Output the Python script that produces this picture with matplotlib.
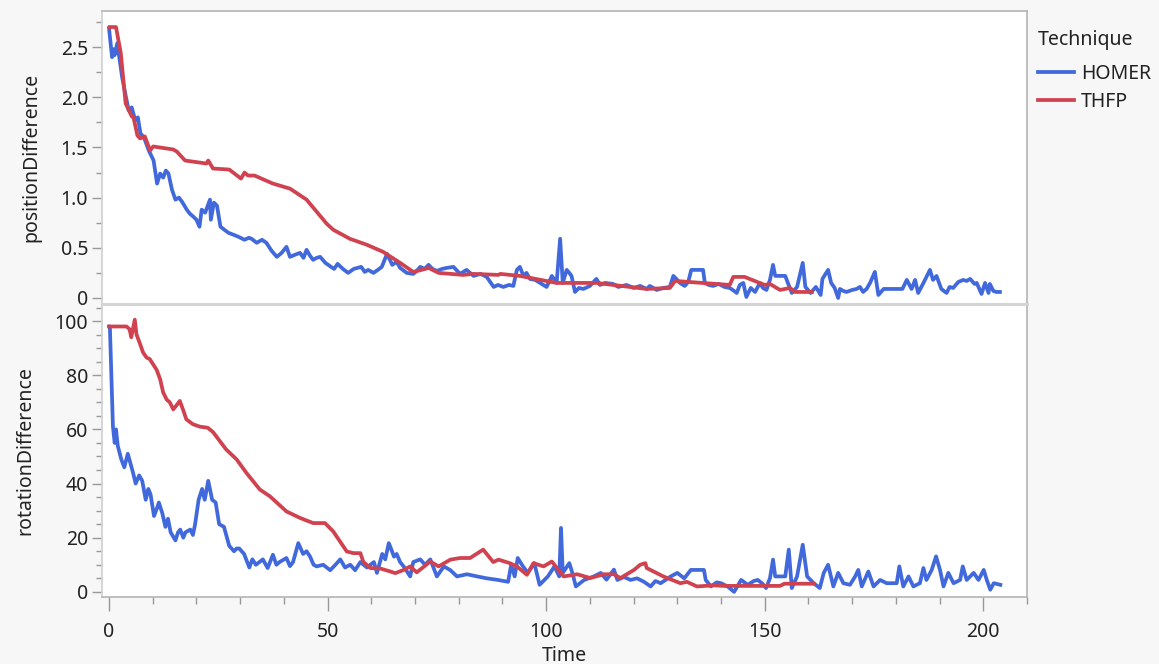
import matplotlib
matplotlib.use("Agg")
import matplotlib.pyplot as plt
from matplotlib.ticker import MultipleLocator, FixedLocator

# HOMER, positionDifference
homer_pos_t = [0, 0.7, 1.0, 1.3, 1.9, 3.0, 3.8, 4.5, 5.2, 6.0, 6.6, 7.2, 8.0, 9.1, 10.2, 11.0, 11.7, 12.4,
               13.0, 13.6, 14.4, 15.2, 16.0, 16.7, 17.8, 18.5, 19.3, 20.0, 20.7, 21.2, 22.0, 23.1, 23.3, 24.0,
               24.7, 25.5, 26.4, 27.3, 28.5, 29.6, 31.0, 32.0, 32.6, 33.8, 35.0, 36.0, 37.2, 38.4, 39.5, 40.6,
               41.4, 42.5, 43.7, 44.5, 45.2, 46.0, 46.7, 47.5, 48.3, 49.5, 50.8, 51.5, 52.3, 53.5, 54.7, 56.0,
               57.7, 58.5, 59.3, 60.5, 61.5, 62.4, 63.6, 64.8, 65.8, 66.6, 68.1, 69.6, 70.4, 71.2, 72.2, 73.1,
               74.0, 75.0, 76.2, 77.3, 78.8, 80.3, 81.8, 83.4, 85.0, 86.4, 88.0, 89.0, 90.2, 91.5, 92.5, 93.3,
               94.0, 94.8, 95.5, 96.3, 97.5, 98.6, 100.1, 101.3, 102.4, 103.2, 103.8, 104.7, 105.3, 105.8,
               106.6, 107.5, 108.5, 110.0, 111.5, 112.3, 113.5, 115.3, 116.5, 118.4, 120.0, 121.5, 123.0,
               123.7, 125.3, 126.8, 128.3, 129.1, 130.0, 130.6, 131.7, 132.5, 133.2, 135.9, 136.3, 137.2,
               138.2, 139.5, 140.8, 142.0, 143.0, 143.6, 144.3, 145.1, 145.8, 146.8, 147.8, 148.9, 149.6,
               150.4, 151.2, 151.9, 152.4, 154.0, 154.7, 155.3, 156.2, 157.4, 158.7, 159.3, 160.5, 161.7,
               162.8, 163.2, 164.5, 165.2, 166.0, 166.8, 167.2, 168.0, 168.7, 170.0, 171.0, 171.8, 172.5,
               173.3, 174.1, 175.2, 176.0, 177.2, 180.2, 181.5, 182.5, 183.6, 184.4, 185.1, 186.2, 187.0,
               187.8, 188.5, 189.3, 190.4, 191.6, 192.3, 193.1, 194.3, 195.4, 196.2, 197.0, 198.0, 198.5,
               199.6, 200.4, 201.2, 201.5, 202.3, 203.0, 203.8]
homer_pos = [2.69, 2.40, 2.48, 2.42, 2.54, 2.20, 2.02, 1.87, 1.90, 1.77, 1.80, 1.64, 1.60, 1.47, 1.37, 1.14, 1.24,
             1.20, 1.27, 1.24, 1.08, 0.98, 1.00, 0.96, 0.88, 0.84, 0.81, 0.78, 0.71, 0.88, 0.85, 0.98, 0.78,
             0.95, 0.92, 0.71, 0.68, 0.65, 0.63, 0.61, 0.58, 0.60, 0.59, 0.55, 0.58, 0.55, 0.47, 0.41, 0.45,
             0.51, 0.41, 0.43, 0.45, 0.40, 0.48, 0.42, 0.38, 0.40, 0.41, 0.35, 0.31, 0.29, 0.34, 0.29, 0.25,
             0.29, 0.31, 0.26, 0.28, 0.25, 0.28, 0.31, 0.44, 0.33, 0.36, 0.30, 0.25, 0.24, 0.27, 0.31, 0.29,
             0.33, 0.29, 0.27, 0.29, 0.30, 0.31, 0.24, 0.28, 0.22, 0.24, 0.21, 0.11, 0.13, 0.11, 0.13, 0.12,
             0.28, 0.31, 0.22, 0.25, 0.19, 0.18, 0.15, 0.11, 0.22, 0.15, 0.59, 0.15, 0.28, 0.25, 0.22, 0.06,
             0.10, 0.09, 0.12, 0.19, 0.13, 0.15, 0.14, 0.11, 0.13, 0.10, 0.12, 0.09, 0.12, 0.08, 0.10, 0.11,
             0.22, 0.18, 0.15, 0.12, 0.16, 0.28, 0.28, 0.15, 0.13, 0.12, 0.14, 0.11, 0.10, 0.07, 0.05, 0.13,
             0.15, 0.01, 0.10, 0.06, 0.15, 0.10, 0.08, 0.18, 0.33, 0.22, 0.22, 0.22, 0.15, 0.05, 0.11, 0.35,
             0.11, 0.05, 0.11, 0.03, 0.19, 0.28, 0.15, 0.10, 0.00, 0.09, 0.07, 0.06, 0.08, 0.09, 0.11, 0.06,
             0.09, 0.15, 0.26, 0.03, 0.09, 0.09, 0.09, 0.18, 0.09, 0.18, 0.05, 0.14, 0.21, 0.28, 0.18, 0.22,
             0.09, 0.05, 0.11, 0.10, 0.16, 0.18, 0.17, 0.19, 0.14, 0.15, 0.04, 0.15, 0.05, 0.14, 0.07, 0.06,
             0.06]

# THFP, positionDifference
thfp_pos_t = [0.2, 1.6, 2.7, 3.8, 5.2, 5.6, 6.5, 7.1, 8.2, 9.4, 10.1, 14.7, 15.5, 17.4, 22.3, 22.7, 23.8, 27.5,
              30.2, 31.0, 31.8, 33.3, 37.5, 41.4, 45.2, 49.8, 51.3, 55.1, 59.0, 62.7, 66.6, 69.6, 71.5, 73.1,
              75.4, 81.0, 83.4, 89.1, 89.5, 94.0, 102.4, 111.5, 123.0, 128.3, 129.5, 142.0, 142.8, 145.4,
              150.0, 151.2, 153.5, 155.8, 156.9, 160.8]
thfp_pos = [2.70, 2.70, 2.44, 1.94, 1.81, 1.80, 1.62, 1.59, 1.61, 1.47, 1.51, 1.48, 1.46, 1.37, 1.34, 1.37, 1.29,
            1.28, 1.19, 1.25, 1.22, 1.22, 1.14, 1.09, 0.98, 0.74, 0.68, 0.59, 0.53, 0.46, 0.35, 0.26, 0.28,
            0.30, 0.25, 0.23, 0.24, 0.23, 0.24, 0.22, 0.15, 0.15, 0.09, 0.10, 0.17, 0.13, 0.21, 0.21, 0.13,
            0.14, 0.08, 0.10, 0.06, 0.06]

# HOMER, rotationDifference
homer_rot_t = [0.0, 0.2, 0.9, 1.3, 1.6, 2.0, 2.8, 3.5, 4.3, 5.0, 5.5, 6.1, 6.9, 7.6, 8.4, 9.0, 9.5, 10.3, 11.0,
               11.4, 12.2, 12.9, 13.5, 14.1, 15.2, 15.8, 16.3, 17.0, 17.5, 18.6, 19.2, 19.7, 20.5, 21.3, 21.9,
               22.7, 23.6, 24.4, 25.2, 26.3, 27.5, 28.6, 29.2, 29.8, 30.9, 32.1, 32.8, 33.6, 35.2, 36.3, 37.5,
               38.3, 39.0, 40.6, 41.4, 42.1, 43.3, 44.4, 45.2, 46.0, 46.8, 47.5, 49.0, 50.6, 51.8, 52.9, 54.0,
               55.2, 56.3, 57.5, 59.0, 60.6, 61.3, 62.5, 63.2, 64.0, 64.5, 65.2, 65.8, 66.6, 67.4, 68.9, 69.6,
               71.2, 72.3, 73.5, 75.0, 76.6, 78.1, 79.6, 81.9, 84.2, 86.4, 89.0, 91.3, 92.0, 92.8, 93.5, 94.7,
               95.8, 97.3, 98.5, 100.4, 101.9, 103.0, 103.4, 103.8, 105.3, 106.0, 106.8, 108.7, 110.9, 112.5,
               113.8, 115.5, 116.3, 117.8, 119.3, 120.8, 122.4, 123.9, 125.0, 126.2, 128.5, 130.0, 131.6,
               133.1, 136.1, 136.5, 137.7, 139.0, 140.0, 141.5, 143.0, 144.6, 146.1, 147.5, 148.4, 149.5,
               150.3, 151.2, 151.9, 152.4, 154.7, 155.5, 156.2, 157.4, 158.7, 159.7, 161.2, 162.6, 163.5,
               164.5, 165.7, 166.8, 168.0, 169.5, 170.7, 171.4, 172.2, 173.7, 174.9, 176.4, 177.9, 180.2,
               180.8, 181.7, 182.9, 184.0, 185.5, 186.3, 187.0, 188.2, 189.2, 190.1, 190.9, 192.0, 193.2,
               194.7, 195.3, 196.2, 197.8, 198.9, 200.1, 200.8, 201.6, 202.4, 203.9]
homer_rot = [98, 98, 61, 55, 60, 54, 49, 46, 51, 47, 44, 40, 43, 41, 34, 38, 36, 28, 31, 33, 29, 24, 27, 22, 19,
             22, 23, 20, 22, 23, 21, 25, 34, 38, 34, 41, 34, 33, 25, 24, 17, 15, 16, 16, 14, 9, 12, 10, 12,
             8.8, 13.7, 10, 11, 12.5, 9.5, 11, 18, 14, 15, 13, 10, 9.4, 10, 8, 10, 12, 9, 10, 8, 11, 9, 11, 7,
             14, 12, 18, 16, 13, 14, 11, 9.4, 5.7, 11, 12, 10, 12, 5.7, 9.4, 8, 5.7, 6.5, 5.7, 5, 4.4, 3.7, 10,
             5.7, 12.5, 9.4, 7, 10.6, 2.6, 5.7, 9.4, 5.7, 23.6, 7, 10.6, 7, 2, 4.4, 5.7, 7, 4.5, 8.2, 4.4,
             5.5, 4.4, 5.0, 3.7, 2, 4, 3.2, 5.7, 7, 5, 8.1, 8.1, 4.4, 2, 3.5, 3.2, 2, 0, 4.4, 2.6, 4.0, 4.4,
             3, 1.4, 5, 11.9, 5.7, 5.7, 15.6, 1.4, 5.7, 17.4, 5.7, 3.2, 1.4, 7, 10, 2, 7, 3.2, 2.6, 5.7, 8.1,
             2, 7.5, 2, 4.4, 3.2, 3.2, 9.4, 2, 5.7, 2, 3.2, 8.8, 4.4, 8.1, 13.1, 8.1, 2, 7, 3.2, 4.4, 9.4,
             4.4, 7, 4.4, 8.1, 4.4, 0.8, 3.2, 2.6]

# THFP, rotationDifference
thfp_rot_t = [0.2, 4.0, 4.7, 5.1, 5.9, 6.3, 7.0, 7.8, 8.6, 9.3, 10.1, 10.9, 11.7, 12.4, 13.2, 13.9, 14.7, 15.5,
              16.2, 17.0, 17.7, 19.2, 20.8, 22.6, 23.8, 26.8, 29.2, 31.4, 34.5, 36.8, 40.6, 43.7, 46.7, 49.4,
              51.3, 54.4, 55.9, 57.5, 58.2, 59.8, 62.1, 64.4, 65.5, 67.4, 68.9, 70.4, 73.5, 75.4, 78.1, 80.3,
              82.6, 85.6, 87.9, 89.1, 91.7, 93.3, 95.6, 97.1, 99.4, 101.3, 104.0, 107.1, 110.1, 113.2, 115.5,
              117.0, 120.1, 121.5, 122.7, 123.0, 126.8, 130.7, 132.2, 134.5, 138.3, 140.6, 153.5, 154.5, 161.2]
thfp_rot = [98, 98, 97, 94, 100.5, 95, 92, 88.4, 86.5, 86, 84, 82, 78.5, 73.6, 71, 70, 67.4, 69, 70.5, 67, 63.7,
            61.9, 61, 60.6, 59, 52.6, 48.9, 44, 37.8, 35.3, 29.7, 27.3, 25.4, 25.4, 22.3, 14.9, 14.3, 14.3,
            11, 8.8, 8.6, 7.5, 6.9, 8.1, 9.4, 7.2, 11.2, 9.4, 11.9, 12.5, 12.5, 15.6, 11, 11.9, 10.6, 9.4,
            6.3, 10.6, 9.4, 11.2, 5.7, 6.5, 5.1, 6.5, 6.5, 5.1, 8.1, 10, 10.6, 8.8, 5.7, 3.2, 3.7, 2.0, 2.4,
            2.2, 2.2, 3.0, 3.0]

BLUE = "#4169dc"
RED = "#d0424f"
SPINE = "#b4b4b4"
TEXT = "#222222"
FS = 14


def style_axis(ax):
    ax.set_facecolor("white")
    for side in ["left", "right", "top", "bottom"]:
        ax.spines[side].set_color(SPINE)
        ax.spines[side].set_linewidth(1.2)
    ax.spines["left"].set_color("#d0d0d0")
    ax.tick_params(axis="both", which="major", length=7, width=1, color="#999999",
                   labelsize=FS, labelcolor=TEXT, pad=3)
    ax.tick_params(axis="both", which="minor", length=4, width=1, color="#999999")
    ax.set_xlim(-1.6, 210)


def main() -> None:
    plt.rcParams["font.family"] = ["Noto Sans", "DejaVu Sans"]
    fig = plt.figure(figsize=(11.59, 6.64), dpi=100)
    fig.patch.set_facecolor("#f7f7f7")

    ax1 = fig.add_axes([102 / 1159, 1 - 303 / 664, 925 / 1159, 292 / 664])
    ax2 = fig.add_axes([102 / 1159, 1 - 597 / 664, 925 / 1159, 293 / 664], sharex=ax1)

    lw = 2.7
    ax1.plot(homer_pos_t, homer_pos, color=BLUE, linewidth=lw, label="HOMER", solid_joinstyle="round")
    ax1.plot(thfp_pos_t, thfp_pos, color=RED, linewidth=lw, label="THFP", solid_joinstyle="round")
    ax2.plot(homer_rot_t, homer_rot, color=BLUE, linewidth=lw, solid_joinstyle="round")
    ax2.plot(thfp_rot_t, thfp_rot, color=RED, linewidth=lw, solid_joinstyle="round")

    style_axis(ax1)
    style_axis(ax2)
    ax1.spines["bottom"].set_visible(False)
    ax2.spines["top"].set_color("#d4d4d4")
    ax2.spines["top"].set_linewidth(2.2)

    ax1.set_ylim(-0.05, 2.86)
    ax1.set_yticks([0, 0.5, 1.0, 1.5, 2.0, 2.5])
    ax1.set_yticklabels(["0", "0.5", "1.0", "1.5", "2.0", "2.5"])
    ax1.yaxis.set_minor_locator(MultipleLocator(0.25))
    ax1.tick_params(axis="x", which="both", bottom=False, labelbottom=False)

    ax2.set_ylim(-1.9, 106.3)
    ax2.set_yticks([0, 20, 40, 60, 80, 100])
    ax2.yaxis.set_minor_locator(MultipleLocator(5))
    ax2.set_xticks([0, 50, 100, 150, 200])
    ax2.xaxis.set_minor_locator(FixedLocator(list(range(0, 211, 10))))
    ax2.tick_params(axis="x", which="major", length=10, pad=8)
    ax2.tick_params(axis="x", which="minor", length=5)

    ax1.set_ylabel("positionDifference", fontsize=FS, color=TEXT, labelpad=14)
    ax2.set_ylabel("rotationDifference", fontsize=FS, color=TEXT, labelpad=14)
    ax2.set_xlabel("Time", fontsize=FS, color=TEXT, labelpad=3)

    leg = fig.legend(loc="upper left", bbox_to_anchor=(1038 / 1159, 1 - 30 / 664), frameon=False,
                     title="Technique", fontsize=FS, title_fontsize=FS, handlelength=1.85,
                     handletextpad=0.35, labelspacing=0.42, borderaxespad=0, borderpad=0)
    leg._legend_box.align = "left"
    leg._legend_box.sep = 10
    for t in leg.get_texts():
        t.set_color(TEXT)
    leg.get_title().set_color(TEXT)

    fig.savefig("out.png", dpi=100, facecolor=fig.get_facecolor())
    plt.close(fig)


if __name__ == "__main__":
    main()
